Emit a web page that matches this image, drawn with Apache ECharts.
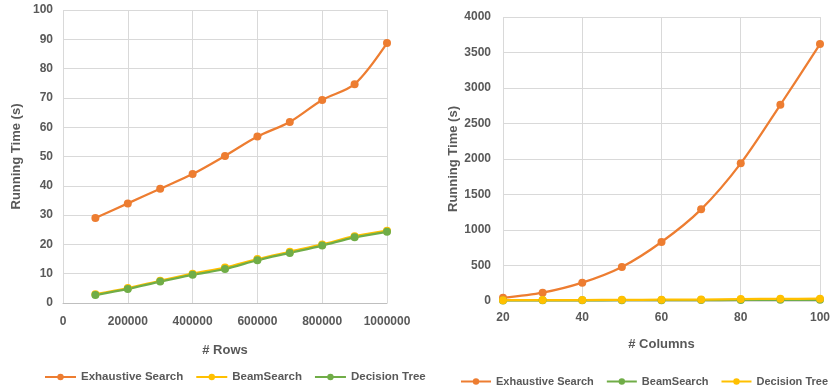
<!DOCTYPE html>
<html>
<head>
<meta charset="utf-8">
<script src="https://cdn.jsdelivr.net/npm/echarts@6/dist/echarts.min.js"></script>
<style>html,body{margin:0;padding:0;background:#fff}#c{width:833px;height:385px}</style>
</head>
<body>
<div id="c"></div>
<script>
const rows = [100000, 200000, 300000, 400000, 500000, 600000, 700000, 800000, 900000, 1000000];
const rowsExhaustive = [29, 34, 39, 44, 50.2, 56.8, 61.8, 69.3, 74.7, 88.7];
const rowsBeam = [3, 5.1, 7.6, 10, 12.1, 15, 17.5, 20, 22.8, 24.7];
const rowsTree = [2.7, 4.8, 7.3, 9.6, 11.6, 14.6, 17.1, 19.6, 22.4, 24.3];

const cols = [20, 30, 40, 50, 60, 70, 80, 90, 100];
const colsExhaustive = [45, 117, 258, 479, 831, 1291, 1939, 2764, 3619];
const colsBeam = [8, 9, 10, 11, 12, 13, 15, 16, 17];
const colsTree = [12, 13, 14, 16, 18, 20, 28, 30, 32];

const seriesNames = ['Exhaustive Search', 'BeamSearch', 'Decision Tree'];

const ORANGE = '#ED7D31', YELLOW = '#FFC000', GREEN = '#70AD47';
const TXT = '#595959';
const FONT = 'Liberation Sans';

function pairs(xs, ys){ return xs.map((x,i)=>[x, ys[i]]); }
function line(name, xs, ys, color, idx){
  return {
    name, type:'line', xAxisIndex: idx, yAxisIndex: idx,
    data: pairs(xs, ys), smooth: 0.3,
    symbol:'circle', symbolSize: 8,
    lineStyle:{color, width:2.25}, itemStyle:{color},
    emphasis:{disabled:true}
  };
}
const plain = v => String(v);
const axisLabel = {color: TXT, fontFamily: FONT, fontWeight:'bold', fontSize: 12, formatter: plain};
const nameStyle = {color: TXT, fontFamily: FONT, fontWeight:'bold', fontSize: 13};
const split = {show:true, lineStyle:{color:'#D9D9D9', width:1}};
const legendText = {color:TXT, fontFamily:FONT, fontWeight:'bold', fontSize:11.5};
const legendText2 = {color:TXT, fontFamily:FONT, fontWeight:'bold', fontSize:11};

const chart = echarts.init(document.getElementById('c'), null, {renderer:'canvas'});
chart.setOption({
  animation:false,
  backgroundColor:'#fff',
  grid:[
    {left:63, right:446, top:10, bottom:82},
    {left:503, right:8, top:17, bottom:84}
  ],
  legend:[
    {data:[
      {name:seriesNames[0], itemStyle:{color:ORANGE}, lineStyle:{color:ORANGE}},
      {name:seriesNames[1], itemStyle:{color:YELLOW}, lineStyle:{color:YELLOW}},
      {name:seriesNames[2], itemStyle:{color:GREEN}, lineStyle:{color:GREEN}}],
     left:39, top:366, width:420, itemWidth:31, itemHeight:8, itemGap:12,
     textStyle:legendText, selectedMode:false},
    {data:[
      {name:seriesNames[0], itemStyle:{color:ORANGE}, lineStyle:{color:ORANGE}},
      {name:seriesNames[1], itemStyle:{color:GREEN}, lineStyle:{color:GREEN}},
      {name:seriesNames[2], itemStyle:{color:YELLOW}, lineStyle:{color:YELLOW}}],
     left:455, top:371, width:400, itemWidth:30, itemHeight:8, itemGap:12,
     textStyle:legendText2, selectedMode:false}
  ],
  xAxis:[
    {type:'value', gridIndex:0, min:0, max:1000000, interval:200000,
     name:'# Rows', nameLocation:'middle', nameGap:41, nameTextStyle:nameStyle,
     axisLine:{show:true, lineStyle:{color:'#BFBFBF'}}, axisTick:{show:false},
     axisLabel:Object.assign({margin:13}, axisLabel), splitLine:split},
    {type:'value', gridIndex:1, min:20, max:100, interval:20,
     name:'# Columns', nameLocation:'middle', nameGap:37, nameTextStyle:nameStyle,
     axisLine:{show:false}, axisTick:{show:false},
     axisLabel:Object.assign({margin:11}, axisLabel), splitLine:split}
  ],
  yAxis:[
    {type:'value', gridIndex:0, min:0, max:100, interval:10,
     name:'Running Time (s)', nameLocation:'middle', nameGap:40, nameTextStyle:nameStyle,
     axisLine:{show:false}, axisTick:{show:false},
     axisLabel:Object.assign({margin:10}, axisLabel), splitLine:split},
    {type:'value', gridIndex:1, min:0, max:4000, interval:500,
     name:'Running Time (s)', nameLocation:'middle', nameGap:42, nameTextStyle:nameStyle,
     axisLine:{show:false}, axisTick:{show:false},
     axisLabel:Object.assign({margin:12}, axisLabel), splitLine:split}
  ],
  series:[
    line(seriesNames[0], rows, rowsExhaustive, ORANGE, 0),
    line(seriesNames[1], rows, rowsBeam, YELLOW, 0),
    line(seriesNames[2], rows, rowsTree, GREEN, 0),
    line(seriesNames[0], cols, colsExhaustive, ORANGE, 1),
    line(seriesNames[1], cols, colsBeam, GREEN, 1),
    line(seriesNames[2], cols, colsTree, YELLOW, 1)
  ]
});
</script>
</body>
</html>
